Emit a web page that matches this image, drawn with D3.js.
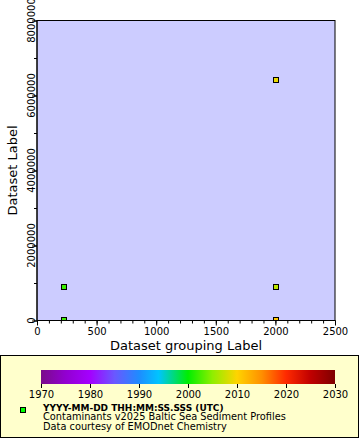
<!DOCTYPE html>
<html><head><meta charset="utf-8">
<script src="https://cdn.jsdelivr.net/npm/d3@7"></script>
<style>body{margin:0;background:#fff}svg{display:block;font-family:"DejaVu Sans",sans-serif}</style>
</head><body><svg id="c" width="360" height="440"></svg>
<script>
// data
const groupingValues = [226, 2005, 226, 2005, 2005];
const datasetValues = [900000, 6400000, 10000, 900000, 10000];
const sampleYears = [2002, 2009, 2002, 2007, 2011];
const xTicks = [0, 500, 1000, 1500, 2000, 2500];
const yTicks = [0, 2000000, 4000000, 6000000, 8000000];
const colorTicks = [1970, 1980, 1990, 2000, 2010, 2020, 2030];
const paletteYears = [1970, 1975, 1980, 1985, 1990, 1994, 2000, 2005, 2010, 2015, 2020, 2025, 2030];
const paletteColors = ["#7a0c8a", "#9200d0", "#a400ff", "#6a58ff", "#1e8cff", "#00c4ff", "#00ee00", "#90ee00", "#ffd400", "#ff9000", "#ff2a00", "#c00000", "#7f0000"];
const legendLines = ["YYYY-MM-DD THH:MM:SS.SSS (UTC)", "Contaminants v2025 Baltic Sea Sediment Profiles", "Data courtesy of EMODnet Chemistry"];
const xTitle = "Dataset grouping Label";
const yTitle = "Dataset Label";

const svg = d3.select("#c");
const L = 37, R = 335, T = 20.5, B = 320.5;
const x = d3.scaleLinear().domain([0, 2500]).range([L, R]);
const y = d3.scaleLinear().domain([0, 8000000]).range([B, T]);
const col = d3.scaleLinear().domain(paletteYears).range(paletteColors).clamp(true);

svg.append("defs").append("clipPath").attr("id", "pc")
  .append("rect").attr("x", L).attr("y", T).attr("width", R - L).attr("height", B - T);

svg.append("rect").attr("x", L).attr("y", T).attr("width", R - L).attr("height", B - T)
  .attr("fill", "#ccccff").attr("stroke", "#000").attr("stroke-width", 1);

// points
const pts = d3.range(groupingValues.length).map(i => ({gx: groupingValues[i], dy: datasetValues[i], yr: sampleYears[i]}));
svg.append("g").attr("clip-path", "url(#pc)").selectAll("rect").data(pts).join("rect")
  .attr("x", d => Math.round(x(d.gx)) - 3 + 0.5)
  .attr("y", d => Math.round(y(d.dy)) - 3 + 0.5)
  .attr("width", 5).attr("height", 5)
  .attr("fill", d => col(d.yr)).attr("stroke", "#000").attr("stroke-width", 1);

// x axis
const xa = svg.append("g").attr("transform", `translate(0,${B})`);
xa.call(d3.axisBottom(x).tickValues(d3.range(0, 2501, 100)).tickSize(3).tickFormat(""))
  .call(g => g.select(".domain").remove());
xa.append("g").call(d3.axisBottom(x).tickValues(xTicks).tickSize(5).tickPadding(2).tickFormat(d3.format("d")))
  .call(g => g.select(".domain").attr("d", `M${L},0H${R}`))
  .call(g => g.selectAll("text").attr("font-size", 10).attr("fill", "#000").attr("font-family", "DejaVu Sans"));
xa.selectAll("line").attr("stroke", "#000");

// y axis
const ya = svg.append("g").attr("transform", `translate(${L},0)`);
ya.call(d3.axisLeft(y).tickValues(d3.range(0, 8000001, 1000000)).tickSize(3).tickFormat(""))
  .call(g => g.select(".domain").remove());
ya.append("g").call(d3.axisLeft(y).tickValues(yTicks).tickSize(5).tickFormat(""))
  .call(g => g.select(".domain").attr("d", `M0,${T}V${B}`));
ya.selectAll("line").attr("stroke", "#000");
svg.append("g").selectAll("text").data(yTicks).join("text")
  .attr("transform", d => `translate(34.5,${y(d)}) rotate(-90)`)
  .attr("text-anchor", "middle").attr("font-size", 10).text(d => d3.format("d")(d));

svg.append("text").attr("x", (L + R) / 2).attr("y", 350).attr("text-anchor", "middle")
  .attr("font-size", 13).text(xTitle);
svg.append("text").attr("transform", `translate(17,${(T + B) / 2}) rotate(-90)`)
  .attr("text-anchor", "middle").attr("font-size", 13).text(yTitle);

// legend
svg.append("rect").attr("x", 0.5).attr("y", 355.5).attr("width", 358).attr("height", 82)
  .attr("fill", "#ffffcc").attr("stroke", "#000");
const cx = d3.scaleLinear().domain([1970, 2030]).range([41, 335]);
const grad = svg.select("defs").append("linearGradient").attr("id", "gr");
paletteYears.forEach((yr, i) => grad.append("stop")
  .attr("offset", (yr - 1970) / 60).attr("stop-color", paletteColors[i]));
svg.append("rect").attr("x", 41).attr("y", 370).attr("width", 294).attr("height", 14).attr("fill", "url(#gr)");
const ca = svg.append("g").attr("transform", "translate(0,384)")
  .call(d3.axisBottom(cx).tickValues(colorTicks).tickSize(4).tickPadding(3).tickFormat(d3.format("d")));
ca.select(".domain").remove();
ca.selectAll("line").attr("stroke", "#000");
ca.selectAll("text").attr("font-size", 10).attr("fill", "#000").attr("font-family", "DejaVu Sans");

svg.append("rect").attr("x", 20.5).attr("y", 407.5).attr("width", 5).attr("height", 5)
  .attr("fill", "#00ff00").attr("stroke", "#000");
svg.append("g").selectAll("text").data(legendLines).join("text")
  .attr("x", 43).attr("y", (d, i) => 410.5 + i * 9.5)
  .attr("font-weight", (d, i) => i === 0 ? "bold" : "normal")
  .attr("font-size", (d, i) => i === 0 ? 9 : 9.8).text(d => d);
</script></body></html>
